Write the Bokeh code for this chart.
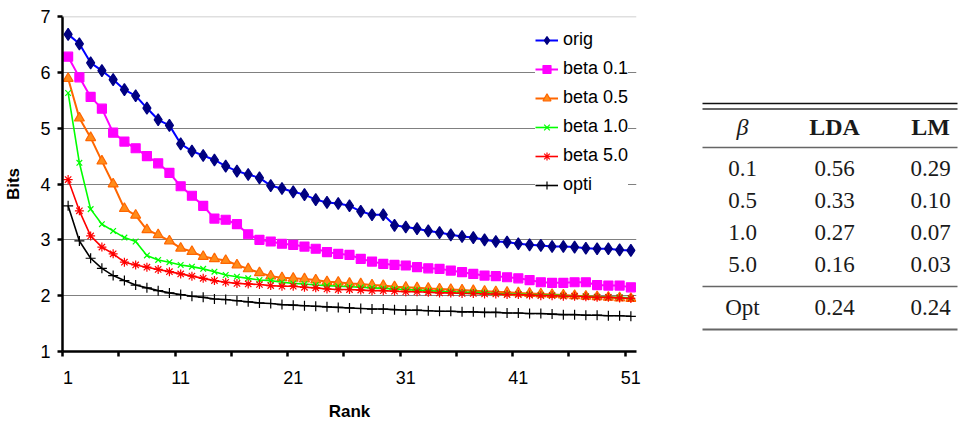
from bokeh.plotting import figure
from bokeh.models import Range1d, FixedTicker, Span
from bokeh.layouts import row
from bokeh.core.properties import value
from bokeh.embed import file_html
from bokeh.resources import INLINE

# ---------------- data ----------------
ranks = list(range(1, 52))
x_tick_labels = [1, 11, 21, 31, 41, 51]
y_ticks = [1, 2, 3, 4, 5, 6, 7]

orig = [6.68, 6.51, 6.17, 6.03, 5.87, 5.69, 5.58, 5.36, 5.15, 5.05,
        4.72, 4.59, 4.51, 4.43, 4.32, 4.23, 4.17, 4.11, 3.97, 3.92,
        3.86, 3.81, 3.72, 3.67, 3.65, 3.61, 3.51, 3.45, 3.45, 3.26,
        3.23, 3.20, 3.16, 3.13, 3.09, 3.06, 3.04, 3.00, 2.97, 2.96,
        2.93, 2.91, 2.90, 2.88, 2.88, 2.87, 2.85, 2.84, 2.84, 2.82, 2.81]
beta01 = [6.28, 5.91, 5.56, 5.35, 4.92, 4.76, 4.64, 4.50, 4.37, 4.20,
          3.96, 3.79, 3.61, 3.38, 3.36, 3.28, 3.10, 3.00, 2.97, 2.93,
          2.91, 2.88, 2.84, 2.78, 2.75, 2.73, 2.66, 2.61, 2.57, 2.55,
          2.54, 2.51, 2.49, 2.48, 2.45, 2.42, 2.39, 2.36, 2.35, 2.33,
          2.31, 2.28, 2.24, 2.23, 2.23, 2.24, 2.24, 2.19, 2.18, 2.18, 2.15]
beta05 = [5.89, 5.18, 4.83, 4.41, 4.00, 3.56, 3.44, 3.18, 3.09, 2.98,
          2.85, 2.79, 2.70, 2.66, 2.63, 2.55, 2.48, 2.41, 2.35, 2.32,
          2.31, 2.30, 2.28, 2.25, 2.24, 2.22, 2.21, 2.19, 2.18, 2.16,
          2.15, 2.14, 2.13, 2.12, 2.11, 2.10, 2.09, 2.08, 2.07, 2.06,
          2.05, 2.04, 2.03, 2.02, 2.01, 2.00, 1.99, 1.98, 1.97, 1.96, 1.95]
beta10 = [5.63, 4.38, 3.55, 3.28, 3.16, 3.04, 2.97, 2.72, 2.64, 2.60,
          2.55, 2.52, 2.48, 2.43, 2.37, 2.34, 2.31, 2.28, 2.27, 2.24,
          2.22, 2.21, 2.19, 2.18, 2.17, 2.16, 2.15, 2.14, 2.13, 2.12,
          2.11, 2.10, 2.09, 2.08, 2.07, 2.06, 2.06, 2.05, 2.04, 2.03,
          2.03, 2.02, 2.01, 2.01, 2.00, 1.99, 1.99, 1.98, 1.97, 1.97, 1.96]
beta50 = [4.08, 3.52, 3.07, 2.87, 2.75, 2.60, 2.55, 2.51, 2.47, 2.43,
          2.39, 2.35, 2.31, 2.27, 2.24, 2.22, 2.21, 2.20, 2.18, 2.17,
          2.17, 2.15, 2.14, 2.12, 2.11, 2.11, 2.10, 2.09, 2.09, 2.08,
          2.07, 2.07, 2.06, 2.05, 2.05, 2.04, 2.04, 2.03, 2.03, 2.02,
          2.02, 2.01, 2.00, 2.00, 1.99, 1.99, 1.98, 1.97, 1.97, 1.96, 1.95]
opti = [3.61, 2.98, 2.67, 2.49, 2.36, 2.27, 2.19, 2.14, 2.09, 2.05,
        2.02, 1.99, 1.97, 1.94, 1.93, 1.91, 1.89, 1.87, 1.86, 1.84,
        1.83, 1.82, 1.81, 1.80, 1.79, 1.78, 1.77, 1.76, 1.76, 1.75,
        1.74, 1.74, 1.73, 1.72, 1.72, 1.71, 1.71, 1.70, 1.70, 1.69,
        1.69, 1.68, 1.68, 1.67, 1.66, 1.66, 1.65, 1.65, 1.64, 1.64, 1.63]

series_names = ["orig", "beta 0.1", "beta 0.5", "beta 1.0", "beta 5.0", "opti"]
series_values = [orig, beta01, beta05, beta10, beta50, opti]

# table data
table_header = ["β", "LDA", "LM"]
table_beta = ["0.1", "0.5", "1.0", "5.0"]
table_lda = ["0.56", "0.33", "0.27", "0.16"]
table_lm = ["0.29", "0.10", "0.07", "0.03"]
table_opt = ["Opt", "0.24", "0.24"]

# ---------------- styles ----------------
styles = [
    dict(line="#0000ff", fill="#000080", edge="#000080", marker="diamond", size=12, lw=2),
    dict(line="#ff00ff", fill="#ff00ff", edge="#ff00ff", marker="square", size=9, lw=2),
    dict(line="#ff6600", fill="#ff8c1a", edge="#ff6600", marker="triangle", size=10, lw=2),
    dict(line="#00ff00", fill="#00ff00", edge="#00ff00", marker="x", size=8, lw=1.6),
    dict(line="#ff0000", fill="#ff0000", edge="#ff0000", marker="asterisk", size=9, lw=1.6),
    dict(line="#000000", fill="#000000", edge="#000000", marker="cross", size=10, lw=1.6),
]

SANS = "Liberation Sans"
SERIF = "Liberation Serif"

p = figure(width=658, height=423, output_backend="svg", toolbar_location=None,
           x_range=Range1d(0.5, 51.5), y_range=Range1d(1, 7),
           min_border_left=62, min_border_right=22, min_border_top=16,
           min_border_bottom=70)
p.frame_align = False
p.outline_line_color = None
p.background_fill_color = "white"
p.xgrid.visible = False
p.ygrid.ticker = FixedTicker(ticks=y_ticks[1:-1])
p.ygrid.grid_line_color = "#808080"
p.ygrid.grid_line_width = 1
p.add_layout(Span(location=y_ticks[-1], dimension="width",
                  line_color="#c0c0c0", line_width=1.5))

# x axis
p.xaxis.ticker = FixedTicker(ticks=x_tick_labels,
                             minor_ticks=[r - 0.5 for r in ranks[::5]])
p.xaxis.major_tick_out = 0
p.xaxis.major_tick_in = 0
p.xaxis.minor_tick_out = 5
p.xaxis.minor_tick_in = 0
p.xaxis.minor_tick_line_width = 2.5
p.xaxis.minor_tick_line_color = "black"
p.xaxis.major_label_standoff = 14
p.xaxis.axis_label = "Rank"
p.xaxis.axis_label_standoff = 15

# y axis
p.yaxis.ticker = FixedTicker(ticks=y_ticks, minor_ticks=[])
p.yaxis.major_tick_out = 5
p.yaxis.major_tick_in = 0
p.yaxis.major_label_standoff = 7
p.yaxis.axis_label = "Bits"
p.yaxis.axis_label_standoff = 14

for ax in (p.xaxis, p.yaxis):
    ax.axis_line_width = 2.5
    ax.axis_line_color = "black"
    ax.major_tick_line_width = 2.5
    ax.major_tick_line_color = "black"
    ax.major_label_text_font = SANS
    ax.major_label_text_font_size = "18px"
    ax.major_label_text_color = "black"
    ax.axis_label_text_font = SANS
    ax.axis_label_text_font_size = "17px"
    ax.axis_label_text_font_style = "bold"
    ax.axis_label_text_color = "black"

for name, vals, st in zip(series_names, series_values, styles):
    p.line(ranks, vals, line_color=st["line"], line_width=st["lw"], legend_label=name)
    p.scatter(ranks, vals, marker=st["marker"], size=st["size"],
              fill_color=st["fill"], line_color=st["edge"], line_width=1.2,
              legend_label=name)

lg = p.legend[0]
lg.location = (473, 156)
lg.background_fill_color = "white"
lg.background_fill_alpha = 1
lg.border_line_color = None
lg.padding = 8
lg.margin = 0
lg.spacing = 8
lg.glyph_width = 23
lg.glyph_height = 20
lg.label_height = 20
lg.label_standoff = 5
lg.label_text_font = SANS
lg.label_text_font_size = "18px"
lg.label_text_color = "black"

# ---------------- table ----------------
t = figure(width=304, height=423, output_backend="svg", toolbar_location=None,
           x_range=Range1d(658, 962), y_range=Range1d(423, 0),
           min_border=0)
t.frame_align = False
t.axis.visible = False
t.grid.visible = False
t.outline_line_color = None

col_x = [742, 834, 930]
header_y = 126
row_y0 = 168
row_step = 32
opt_y = 307
rule_x0, rule_x1 = 702, 957

rules_y = [103, 108.5, 147, 286, 329]
rules_c = ["#111111", "#666666", "#666666", "#666666", "#666666"]
rules_w = [1.3, 1.8, 1.6, 1.6, 2.2]
t.segment(x0=[rule_x0] * len(rules_y), x1=[rule_x1] * len(rules_y),
          y0=rules_y, y1=rules_y, line_color=rules_c, line_width=rules_w)

fs = "23px"
tc = "#1a1a1a"
t.text(x=[col_x[0]], y=[header_y], text=[table_header[0]],
       text_font=value(SERIF), text_font_style="italic", text_font_size="24px",
       text_align="center", text_baseline="middle", text_color=tc)
t.text(x=col_x[1:], y=[header_y] * 2, text=table_header[1:],
       text_font=value(SERIF), text_font_style="bold", text_font_size="24px",
       text_align="center", text_baseline="middle", text_color=tc)

rows_y = [row_y0 + i * row_step for i in range(len(table_beta))]
for cx, col in zip(col_x, [table_beta, table_lda, table_lm]):
    t.text(x=[cx] * len(col), y=rows_y, text=col,
           text_font=value(SERIF), text_font_size=fs,
           text_align="center", text_baseline="middle", text_color=tc)
t.text(x=col_x, y=[opt_y] * 3, text=table_opt,
       text_font=value(SERIF), text_font_size=fs,
       text_align="center", text_baseline="middle", text_color=tc)

layout = row(p, t)
open("out.html", "w").write(file_html(layout, INLINE))
